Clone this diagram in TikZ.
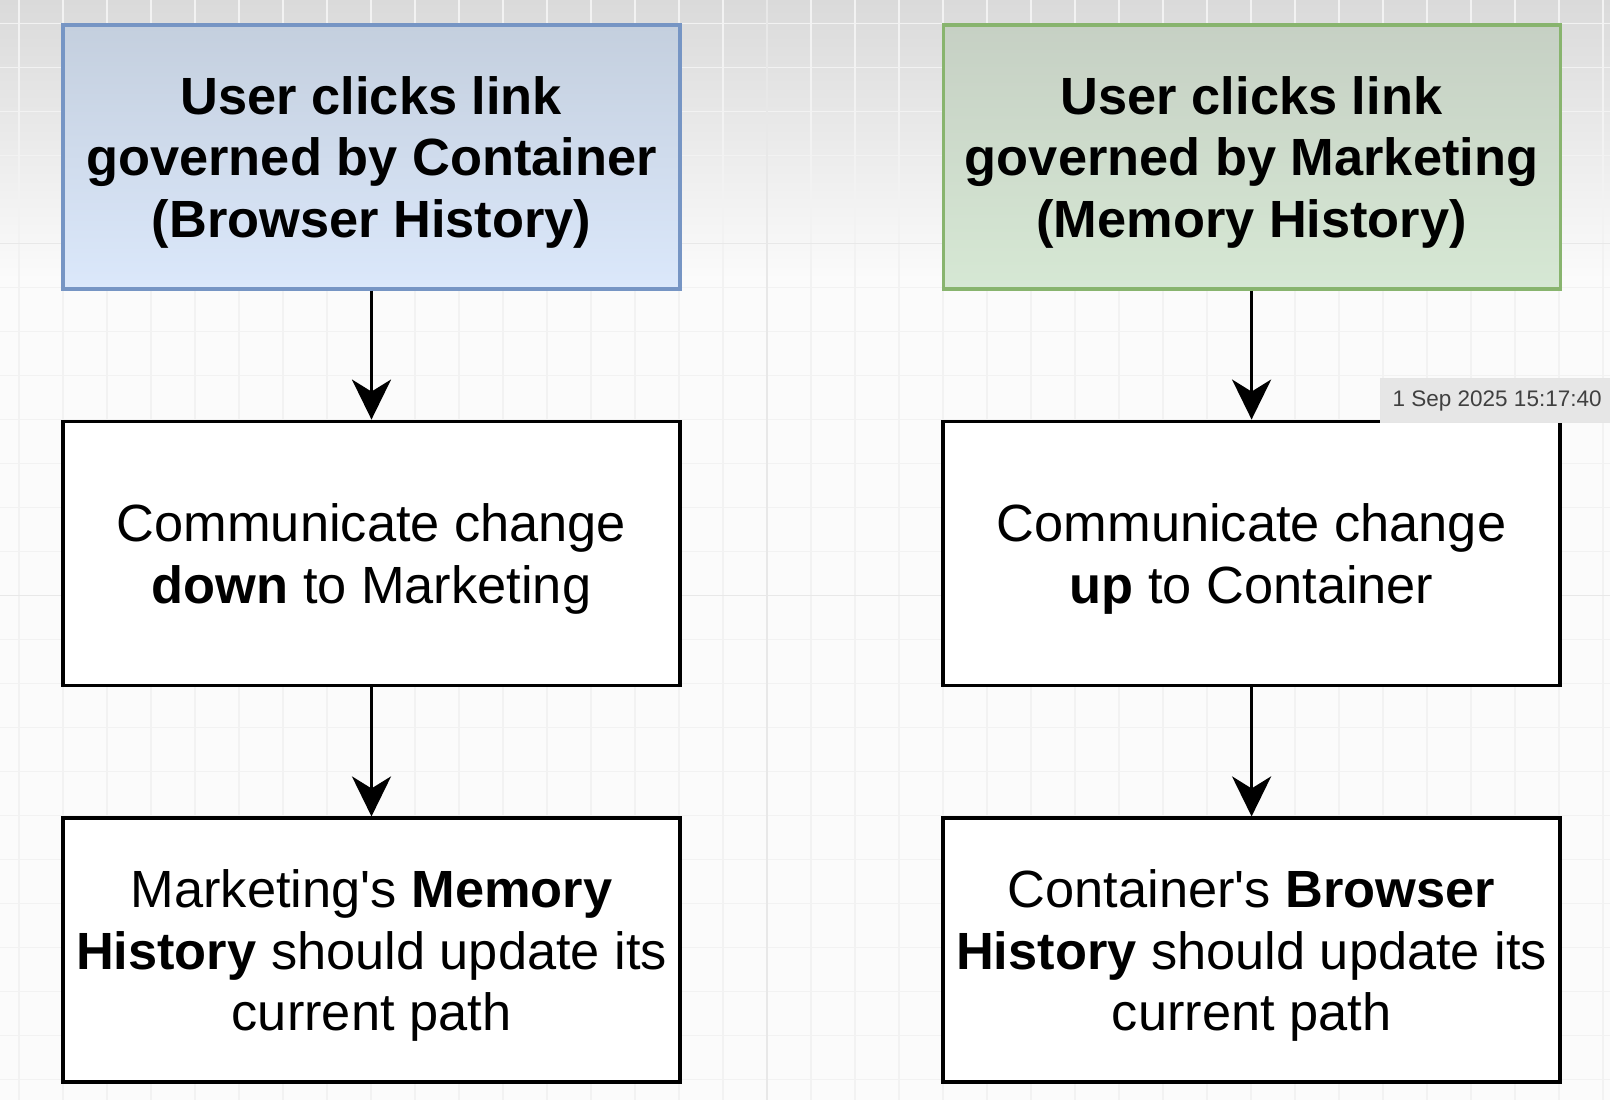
\documentclass[tikz,border=0pt]{standalone}
\usepackage{fontspec}
\setmainfont{Liberation Sans}
\usepackage{tikz}
\usetikzlibrary{arrows.meta,positioning}
\definecolor{BlueTop}{RGB}{196,207,222}
\definecolor{BlueBot}{RGB}{219,232,251}
\definecolor{BlueLine}{RGB}{118,149,196}
\definecolor{GreenTop}{RGB}{198,208,196}
\definecolor{GreenBot}{RGB}{214,232,212}
\definecolor{GreenLine}{RGB}{136,180,110}
\definecolor{GridGray}{RGB}{242,242,242}
\definecolor{MajorGray}{RGB}{232,232,232}
\definecolor{ScreenGray}{RGB}{218,218,218}
\definecolor{PaperWhite}{RGB}{251,251,251}
\definecolor{StampFill}{RGB}{230,230,230}

\begin{document}
\begin{tikzpicture}[
node distance=1.29cm,
box/.style={draw=black,line width=1.1pt,fill=white,minimum width=6.17cm,minimum height=2.64cm,align=center,text depth=-2.8pt,font=\fontsize{14.9pt}{17.5pt}\selectfont},
bluebox/.style={box,draw=BlueLine,line width=0.9pt,top color=BlueTop,bottom color=BlueBot,font=\fontsize{14.9pt}{17.5pt}\selectfont\bfseries},
greenbox/.style={bluebox,draw=GreenLine,top color=GreenTop,bottom color=GreenBot},
arr/.style={-{Stealth[length=4mm,width=3.9mm,inset=1.2mm]},line width=0.9pt},
gridline/.style={draw=GridGray,line width=0.4pt},
stamp/.style={draw=gray!20,fill=StampFill,minimum height=0.32cm,inner xsep=0.12cm,text=black!75,font=\fontsize{6.4pt}{7pt}\selectfont}
]
\useasboundingbox (0,0) rectangle (16.1,-11);
% screen background
\fill[PaperWhite] (0,0) rectangle (16.1,-11);
\shade[top color=ScreenGray,bottom color=PaperWhite] (0,0) rectangle (16.1,-2.8);
\foreach \i in {0,...,36} \draw[gridline] (0.188+0.44*\i,0) -- ++(0,-11);
\foreach \j in {1,...,25} \draw[gridline] (0,0.203-0.44*\j) -- ++(16.1,0);
\draw[gridline,draw=MajorGray] (7.668,0) -- ++(0,-11);
\foreach \j in {6,14} \draw[gridline,draw=MajorGray] (0,0.203-0.44*\j) -- ++(16.1,0);

% container side
\node[bluebox] (contclick) at (3.715,-1.57) {User clicks link\\governed by Container\\(Browser History)};
\node[box,below=of contclick] (down) {Communicate change\\\textbf{down} to Marketing};
\node[box,below=of down] (memupd) {Marketing\textquotesingle s \textbf{Memory}\\\textbf{History} should update its\\current path};

% marketing side
\node[greenbox] (markclick) at (12.516,-1.57) {User clicks link\\governed by Marketing\\(Memory History)};
\node[box,below=of markclick] (up) {Communicate change\\\textbf{up} to Container};
\node[box,below=of up] (brwupd) {Container\textquotesingle s \textbf{Browser}\\\textbf{History} should update its\\current path};

\draw[arr] (contclick)--(down); \draw[arr] (down)--(memupd);
\draw[arr] (markclick)--(up); \draw[arr] (up)--(brwupd);

\node[stamp,anchor=north west] (time) at (13.80,-3.78) {1 Sep 2025 15:17:40};
\end{tikzpicture}
\end{document}
